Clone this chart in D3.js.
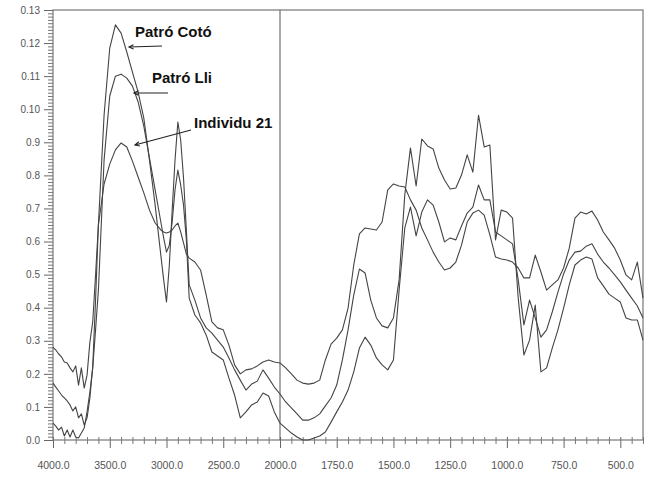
<!DOCTYPE html>
<html><head><meta charset="utf-8">
<script src="https://cdn.jsdelivr.net/npm/d3@7"></script>
<style>
html,body{margin:0;padding:0;background:#fff;}
svg{display:block;}
text{font-family:Arial,"Liberation Sans",sans-serif;}
</style></head>
<body>
<svg id="chart" width="652" height="488"></svg>
<script>
// Wavenumbers (cm-1), shared by the three spectra
const wavenumbers = [
 4000,3975,3950,3925,3900,3875,3850,3825,3800,3775,3750,3725,3700,3675,3650,3625,3600,
 3550,3500,3450,3400,3350,3300,3250,3200,3150,3100,3050,
 3025,3000,2975,2950,2925,2900,2875,2850,2825,
 2800,2750,2700,2650,2600,2550,2500,2450,2400,2350,2300,2250,2200,2150,2100,2050,2000,
 1975,1950,1925,1900,1875,1850,1825,1800,1775,1750,1725,1700,1675,1650,1625,1600,
 1575,1550,1525,1500,1475,1450,1425,1400,1375,1350,1325,1300,1275,1250,1225,1200,
 1175,1150,1125,1100,1075,1050,1025,1000,975,950,925,900,875,850,825,800,
 775,750,725,700,675,650,625,600,575,550,525,500,475,450,425,400
];

const patroCoto = [
 0.0172,0.0160,0.0148,0.0136,0.0127,0.0118,0.0106,0.0088,0.0100,0.0067,0.0079,0.0045,0.0067,0.0127,0.0221,0.0423,0.0650,
 0.0982,0.1185,0.1255,0.1230,0.1173,0.1112,0.1052,0.0973,0.0846,0.0710,0.0559,
 0.0484,0.0417,0.0529,0.0695,0.0846,0.0961,0.0907,0.0792,0.0635,
 0.0469,0.0423,0.0369,0.0339,0.0323,0.0302,0.0281,0.0248,0.0212,0.0181,0.0151,0.0169,0.0178,0.0212,0.0187,0.0160,0.0139,
 0.0115,0.0097,0.0079,0.0060,0.0060,0.0067,0.0079,0.0103,0.0127,0.0166,0.0242,0.0333,0.0438,0.0517,0.0505,0.0423,
 0.0369,0.0345,0.0339,0.0369,0.0484,0.0741,0.0883,0.0768,0.0910,0.0889,0.0880,0.0822,0.0786,0.0759,0.0762,0.0801,
 0.0862,0.0810,0.0982,0.0886,0.0892,0.0605,0.0695,0.0689,0.0671,0.0429,0.0257,0.0302,0.0408,0.0206,0.0218,0.0278,
 0.0333,0.0399,0.0469,0.0529,0.0544,0.0553,0.0547,0.0490,0.0466,0.0441,0.0429,0.0417,0.0369,0.0363,0.0363,0.0302
];

const patroLli = [
 0.0051,0.0042,0.0030,0.0039,0.0012,0.0030,0.0009,0.0030,0.0009,0.0006,0.0021,0.0036,0.0085,0.0145,0.0218,0.0333,0.0453,
 0.0846,0.1040,0.1100,0.1106,0.1094,0.1070,0.1022,0.0949,0.0852,0.0756,0.0659,
 0.0611,0.0568,0.0589,0.0659,0.0756,0.0816,0.0771,0.0710,0.0605,
 0.0429,0.0378,0.0354,0.0317,0.0266,0.0254,0.0242,0.0187,0.0136,0.0067,0.0085,0.0106,0.0115,0.0142,0.0133,0.0085,0.0051,
 0.0036,0.0021,0.0009,0.0000,0.0000,0.0006,0.0012,0.0024,0.0054,0.0085,0.0115,0.0151,0.0206,0.0278,0.0311,0.0287,
 0.0248,0.0227,0.0212,0.0242,0.0453,0.0641,0.0704,0.0617,0.0689,0.0726,0.0710,0.0659,0.0599,0.0611,0.0605,0.0647,
 0.0686,0.0704,0.0771,0.0726,0.0726,0.0629,0.0617,0.0605,0.0593,0.0484,0.0348,0.0423,0.0369,0.0311,0.0333,0.0387,
 0.0447,0.0502,0.0544,0.0568,0.0571,0.0586,0.0593,0.0562,0.0538,0.0520,0.0499,0.0478,0.0453,0.0429,0.0405,0.0369
];

const individu21 = [
 0.0281,0.0272,0.0260,0.0251,0.0236,0.0233,0.0218,0.0206,0.0224,0.0166,0.0218,0.0157,0.0196,0.0296,0.0357,0.0499,0.0650,
 0.0774,0.0834,0.0877,0.0898,0.0886,0.0843,0.0795,0.0747,0.0695,0.0656,0.0635,
 0.0629,0.0626,0.0629,0.0635,0.0647,0.0656,0.0629,0.0596,0.0562,
 0.0550,0.0538,0.0514,0.0438,0.0357,0.0339,0.0333,0.0287,0.0227,0.0200,0.0212,0.0215,0.0224,0.0236,0.0242,0.0236,0.0233,
 0.0218,0.0200,0.0181,0.0172,0.0169,0.0172,0.0181,0.0242,0.0290,0.0308,0.0333,0.0399,0.0529,0.0623,0.0641,0.0638,
 0.0635,0.0659,0.0756,0.0774,0.0768,0.0765,0.0726,0.0695,0.0641,0.0605,0.0568,0.0538,0.0514,0.0520,0.0538,0.0589,
 0.0659,0.0686,0.0695,0.0680,0.0620,0.0553,0.0547,0.0544,0.0538,0.0520,0.0490,0.0490,0.0559,0.0508,0.0453,0.0469,
 0.0484,0.0520,0.0580,0.0671,0.0689,0.0683,0.0692,0.0665,0.0629,0.0605,0.0580,0.0544,0.0499,0.0484,0.0538,0.0429
];

const xMajorTicks = [4000,3500,3000,2500,2000,1750,1500,1250,1000,750,500];
const xTickLabels = ["4000.0","3500.0","3000.0","2500.0","2000.0","1750.0","1500.0","1250.0","1000.0","750.0","500.0"];
const yTickValues = [0,0.01,0.02,0.03,0.04,0.05,0.06,0.07,0.08,0.09,0.10,0.11,0.12,0.13];
const yTickLabels = ["0.0","0.1","0.2","0.3","0.4","0.5","0.6","0.7","0.8","0.9","0.10","0.11","0.12","0.13"];

const seriesNames = ["Patró Cotó","Patró Lli","Individu 21"];
const seriesValues = [patroCoto, patroLli, individu21];

const svg = d3.select("#chart");
const L = 53, R = 643, T = 10, B = 440;

const x = d3.scaleLinear().domain([4000, 2000, 400]).range([L, 280, R]);
const y = d3.scaleLinear().domain([0, 0.13]).range([B, T]);

// minor ticks
const xMinor = d3.range(3900, 2000, -100).concat(d3.range(1950, 399, -50))
  .filter(v => !xMajorTicks.includes(v));
const yMinor = d3.range(0, 131).map(i => i / 1000).filter(v => Math.round(v*1000) % 10 !== 0);

// Y axis
const yAxis = svg.append("g").attr("transform", `translate(${L},0)`)
  .call(d3.axisLeft(y).tickValues(yTickValues).tickFormat((d,i) => yTickLabels[i]).tickSize(9).tickPadding(4));
yAxis.select(".domain").remove();
yAxis.selectAll("line").attr("stroke", "#666");
yAxis.selectAll("text").attr("fill", "#555").style("font-size", "10px");

const yAxisMinor = svg.append("g").attr("transform", `translate(${L},0)`)
  .call(d3.axisLeft(y).tickValues(yMinor).tickFormat("").tickSize(5));
yAxisMinor.select(".domain").remove();
yAxisMinor.selectAll("line").attr("stroke", "#777");

// X axis
const xAxis = svg.append("g").attr("transform", `translate(0,${B})`)
  .call(d3.axisBottom(x).tickValues(xMajorTicks).tickFormat((d,i) => xTickLabels[i]).tickSize(8).tickPadding(14));
xAxis.select(".domain").remove();
xAxis.selectAll("line").attr("y1", -3).attr("y2", 8).attr("stroke", "#666");
xAxis.selectAll("text").attr("fill", "#555").style("font-size", "10.5px");

const xAxisMinor = svg.append("g").attr("transform", `translate(0,${B})`)
  .call(d3.axisBottom(x).tickValues(xMinor).tickFormat("").tickSize(4));
xAxisMinor.select(".domain").remove();
xAxisMinor.selectAll("line").attr("y1", -3).attr("y2", 4).attr("stroke", "#777");

// frame
svg.append("rect").attr("x", L).attr("y", T).attr("width", R - L).attr("height", B - T)
  .attr("fill", "none").attr("stroke", "#777").attr("stroke-width", 1.2);

// 2000 cm-1 divider
svg.append("line").attr("x1", x(2000)).attr("x2", x(2000)).attr("y1", T).attr("y2", B)
  .attr("stroke", "#555").attr("stroke-width", 1);

// spectra
const line = d3.line().x((d,i) => x(wavenumbers[i])).y(d => y(d));
svg.append("g").selectAll("path").data(seriesValues).join("path")
  .attr("d", d => line(d))
  .attr("fill", "none").attr("stroke", "#444").attr("stroke-width", 1.1)
  .attr("stroke-linejoin", "round");

// annotations
const notes = [
  {name: seriesNames[0], tx: 135, ty: 37, from: [162, 46], to: [129, 47]},
  {name: seriesNames[1], tx: 152, ty: 83, from: [168, 93], to: [134, 93]},
  {name: seriesNames[2], tx: 194, ty: 128, from: [191, 130], to: [135, 145]}
];
const ann = svg.append("g");
notes.forEach(n => {
  ann.append("text").attr("x", n.tx).attr("y", n.ty).text(n.name)
    .attr("fill", "#111").style("font-size", "15px").style("font-weight", "bold");
  ann.append("line").attr("x1", n.from[0]).attr("y1", n.from[1]).attr("x2", n.to[0]).attr("y2", n.to[1])
    .attr("stroke", "#222").attr("stroke-width", 1.1);
  const ang = Math.atan2(n.from[1] - n.to[1], n.from[0] - n.to[0]);
  const a1 = ang + 0.45, a2 = ang - 0.45, len = 5;
  ann.append("path")
    .attr("d", `M${n.to[0] + len*Math.cos(a1)},${n.to[1] + len*Math.sin(a1)}L${n.to[0]},${n.to[1]}L${n.to[0] + len*Math.cos(a2)},${n.to[1] + len*Math.sin(a2)}`)
    .attr("fill", "none").attr("stroke", "#222").attr("stroke-width", 1.1);
});
</script>
</body></html>
